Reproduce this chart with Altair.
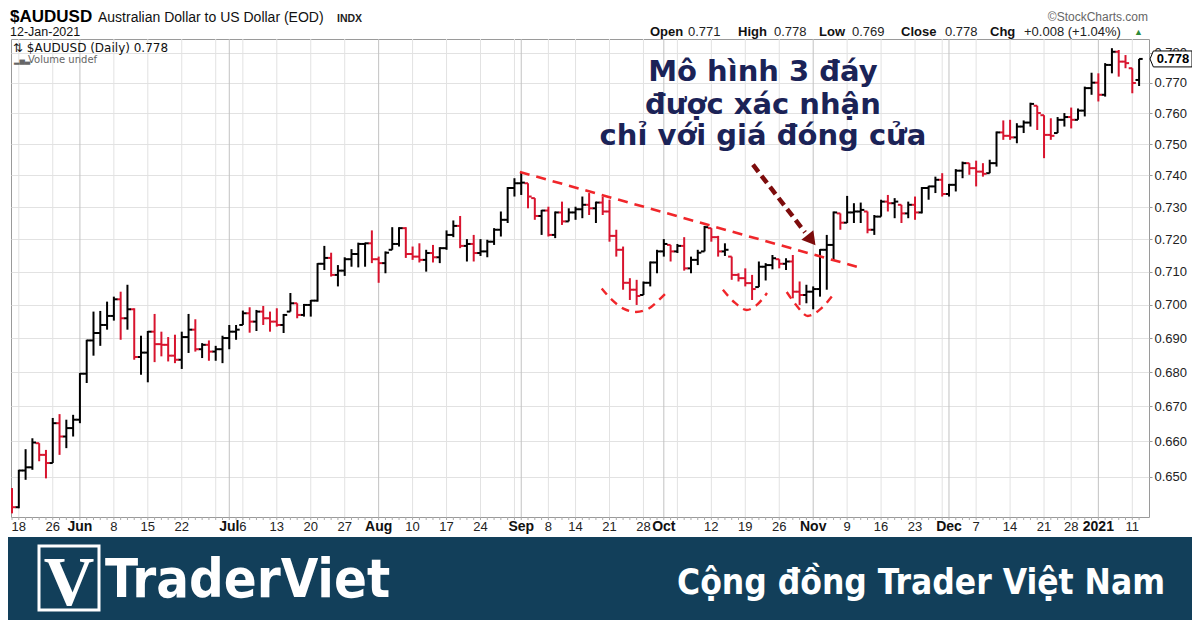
import altair as alt
import pandas as pd

# ------------------------------------------------------------------ data
HOLIDAYS = ["2020-05-25", "2020-07-03", "2020-09-07", "2020-11-26", "2020-12-25", "2021-01-01"]
DAYS = [d for d in pd.bdate_range("2020-05-15", "2021-01-12") if d.strftime("%Y-%m-%d") not in HOLIDAYS]

OPEN = [0.6464, 0.6416, 0.6518, 0.6527, 0.6595, 0.6562, 0.6539, 0.6652, 0.6614, 0.6638,
        0.6662, 0.6795, 0.6893, 0.6915, 0.6939, 0.6966, 0.7016, 0.6959, 0.6986, 0.6844,
        0.6857, 0.6919, 0.6882, 0.6880, 0.6848, 0.6836, 0.6903, 0.6925, 0.6867, 0.6880,
        0.6860, 0.6867, 0.6900, 0.6919, 0.6939, 0.6974, 0.6949, 0.6979, 0.6959, 0.6949,
        0.6939, 0.6979, 0.7004, 0.6969, 0.6999, 0.7012, 0.7124, 0.7142, 0.7090, 0.7103,
        0.7138, 0.7154, 0.7185, 0.7187, 0.7138, 0.7126, 0.7167, 0.7185, 0.7234, 0.7154,
        0.7146, 0.7136, 0.7157, 0.7144, 0.7172, 0.7213, 0.7241, 0.7179, 0.7185, 0.7157,
        0.7162, 0.7192, 0.7229, 0.7260, 0.7360, 0.7375, 0.7375, 0.7328, 0.7272, 0.7289,
        0.7213, 0.7283, 0.7255, 0.7283, 0.7293, 0.7307, 0.7296, 0.7314, 0.7286, 0.7210,
        0.7167, 0.7066, 0.7045, 0.7029, 0.7066, 0.7128, 0.7162, 0.7182, 0.7162, 0.7179,
        0.7110, 0.7136, 0.7162, 0.7234, 0.7206, 0.7162, 0.7146, 0.7090, 0.7080, 0.7065,
        0.7053, 0.7115, 0.7120, 0.7138, 0.7124, 0.7131, 0.7039, 0.7029, 0.7039, 0.7047,
        0.7167, 0.7182, 0.7280, 0.7251, 0.7283, 0.7286, 0.7286, 0.7229, 0.7270, 0.7317,
        0.7312, 0.7307, 0.7280, 0.7307, 0.7283, 0.7360, 0.7365, 0.7386, 0.7341, 0.7370,
        0.7415, 0.7439, 0.7423, 0.7412, 0.7407, 0.7439, 0.7538, 0.7527, 0.7522, 0.7557,
        0.7570, 0.7625, 0.7594, 0.7530, 0.7536, 0.7579, 0.7588, 0.7579, 0.7609, 0.7683,
        0.7701, 0.7661, 0.7760, 0.7804, 0.7771, 0.7749, 0.7710]
HIGH = [0.6469, 0.6520, 0.6578, 0.6609, 0.6595, 0.6576, 0.6667, 0.6678, 0.6662, 0.6676,
        0.6797, 0.6895, 0.6979, 0.6981, 0.7009, 0.7024, 0.7039, 0.7060, 0.6989, 0.6907,
        0.6921, 0.6972, 0.6919, 0.6903, 0.6910, 0.6919, 0.6972, 0.6956, 0.6885, 0.6893,
        0.6877, 0.6907, 0.6939, 0.6939, 0.6982, 0.6992, 0.6984, 0.6996, 0.6979, 0.6989,
        0.6972, 0.7035, 0.7004, 0.7002, 0.7014, 0.7126, 0.7179, 0.7158, 0.7120, 0.7144,
        0.7169, 0.7189, 0.7189, 0.7227, 0.7146, 0.7162, 0.7237, 0.7237, 0.7237, 0.7177,
        0.7187, 0.7167, 0.7182, 0.7175, 0.7227, 0.7258, 0.7272, 0.7200, 0.7213, 0.7200,
        0.7198, 0.7234, 0.7286, 0.7363, 0.7391, 0.7409, 0.7375, 0.7328, 0.7291, 0.7301,
        0.7286, 0.7317, 0.7296, 0.7301, 0.7333, 0.7344, 0.7317, 0.7333, 0.7323, 0.7229,
        0.7177, 0.7080, 0.7075, 0.7070, 0.7131, 0.7167, 0.7200, 0.7182, 0.7185, 0.7206,
        0.7146, 0.7167, 0.7241, 0.7234, 0.7210, 0.7187, 0.7146, 0.7095, 0.7110, 0.7090,
        0.7131, 0.7126, 0.7151, 0.7138, 0.7141, 0.7151, 0.7070, 0.7060, 0.7055, 0.7169,
        0.7213, 0.7286, 0.7280, 0.7335, 0.7312, 0.7314, 0.7286, 0.7275, 0.7323, 0.7338,
        0.7328, 0.7307, 0.7317, 0.7333, 0.7363, 0.7367, 0.7396, 0.7407, 0.7373, 0.7420,
        0.7444, 0.7439, 0.7447, 0.7439, 0.7450, 0.7541, 0.7577, 0.7579, 0.7568, 0.7577,
        0.7635, 0.7625, 0.7594, 0.7584, 0.7588, 0.7601, 0.7619, 0.7616, 0.7688, 0.7734,
        0.7732, 0.7766, 0.7816, 0.7810, 0.7793, 0.7749, 0.7780]
LOW = [0.6399, 0.6413, 0.6492, 0.6520, 0.6544, 0.6496, 0.6539, 0.6562, 0.6581, 0.6614,
       0.6652, 0.6768, 0.6848, 0.6877, 0.6925, 0.6952, 0.6895, 0.6925, 0.6836, 0.6792,
       0.6770, 0.6829, 0.6846, 0.6831, 0.6826, 0.6809, 0.6856, 0.6860, 0.6841, 0.6833,
       0.6833, 0.6826, 0.6867, 0.6895, 0.6939, 0.6916, 0.6921, 0.6939, 0.6919, 0.6934,
       0.6915, 0.6979, 0.6959, 0.6964, 0.6964, 0.7009, 0.7105, 0.7085, 0.7055, 0.7087,
       0.7115, 0.7113, 0.7115, 0.7126, 0.7066, 0.7095, 0.7167, 0.7177, 0.7142, 0.7136,
       0.7128, 0.7100, 0.7128, 0.7126, 0.7167, 0.7206, 0.7172, 0.7131, 0.7131, 0.7148,
       0.7144, 0.7182, 0.7208, 0.7250, 0.7333, 0.7338, 0.7296, 0.7260, 0.7213, 0.7208,
       0.7203, 0.7244, 0.7255, 0.7260, 0.7265, 0.7275, 0.7250, 0.7275, 0.7192, 0.7146,
       0.7045, 0.7014, 0.6999, 0.7029, 0.7055, 0.7095, 0.7146, 0.7131, 0.7157, 0.7103,
       0.7095, 0.7120, 0.7162, 0.7192, 0.7146, 0.7148, 0.7075, 0.7070, 0.7055, 0.7014,
       0.7053, 0.7073, 0.7107, 0.7110, 0.7105, 0.7019, 0.6999, 0.7004, 0.6986, 0.7024,
       0.7045, 0.7136, 0.7229, 0.7250, 0.7250, 0.7250, 0.7218, 0.7213, 0.7270, 0.7286,
       0.7265, 0.7250, 0.7265, 0.7260, 0.7280, 0.7323, 0.7344, 0.7333, 0.7333, 0.7349,
       0.7391, 0.7402, 0.7365, 0.7396, 0.7407, 0.7428, 0.7514, 0.7514, 0.7503, 0.7536,
       0.7557, 0.7546, 0.7455, 0.7514, 0.7536, 0.7557, 0.7551, 0.7579, 0.7590, 0.7661,
       0.7639, 0.7655, 0.7732, 0.7721, 0.7749, 0.7666, 0.7690]
CLOSE = [0.6416, 0.6518, 0.6527, 0.6597, 0.6562, 0.6539, 0.6652, 0.6614, 0.6638, 0.6662,
         0.6795, 0.6893, 0.6915, 0.6939, 0.6966, 0.7016, 0.6959, 0.6986, 0.6844, 0.6857,
         0.6919, 0.6882, 0.6880, 0.6848, 0.6836, 0.6903, 0.6925, 0.6867, 0.6880, 0.6860,
         0.6867, 0.6900, 0.6919, 0.6925, 0.6974, 0.6949, 0.6979, 0.6959, 0.6949, 0.6939,
         0.6969, 0.7004, 0.6969, 0.6999, 0.7012, 0.7124, 0.7142, 0.7090, 0.7103, 0.7138,
         0.7154, 0.7185, 0.7187, 0.7138, 0.7126, 0.7158, 0.7185, 0.7234, 0.7154, 0.7146,
         0.7136, 0.7157, 0.7144, 0.7172, 0.7213, 0.7241, 0.7179, 0.7185, 0.7157, 0.7162,
         0.7192, 0.7229, 0.7260, 0.7360, 0.7375, 0.7377, 0.7333, 0.7272, 0.7289, 0.7213,
         0.7283, 0.7255, 0.7283, 0.7293, 0.7307, 0.7296, 0.7314, 0.7286, 0.7210, 0.7167,
         0.7066, 0.7045, 0.7026, 0.7066, 0.7128, 0.7162, 0.7185, 0.7162, 0.7179, 0.7110,
         0.7136, 0.7158, 0.7237, 0.7206, 0.7162, 0.7167, 0.7090, 0.7080, 0.7065, 0.7047,
         0.7115, 0.7120, 0.7141, 0.7124, 0.7131, 0.7039, 0.7029, 0.7039, 0.7047, 0.7167,
         0.7182, 0.7283, 0.7251, 0.7283, 0.7286, 0.7291, 0.7229, 0.7270, 0.7317, 0.7312,
         0.7317, 0.7280, 0.7307, 0.7283, 0.7360, 0.7365, 0.7386, 0.7341, 0.7370, 0.7415,
         0.7439, 0.7423, 0.7412, 0.7405, 0.7439, 0.7538, 0.7527, 0.7522, 0.7557, 0.7570,
         0.7631, 0.7601, 0.7530, 0.7527, 0.7579, 0.7588, 0.7579, 0.7609, 0.7683, 0.7701,
         0.7661, 0.7760, 0.7804, 0.7771, 0.7766, 0.7700, 0.7780]

TICK_DATES = ["2020-05-18", "2020-05-26", "2020-06-01", "2020-06-08", "2020-06-15", "2020-06-22",
              "2020-07-01", "2020-07-06", "2020-07-13", "2020-07-20", "2020-07-27", "2020-08-03",
              "2020-08-10", "2020-08-17", "2020-08-24", "2020-09-01", "2020-09-08", "2020-09-14",
              "2020-09-21", "2020-09-28", "2020-10-01", "2020-10-12", "2020-10-19", "2020-10-26",
              "2020-11-02", "2020-11-09", "2020-11-16", "2020-11-23", "2020-12-01", "2020-12-07",
              "2020-12-14", "2020-12-21", "2020-12-28", "2021-01-04", "2021-01-11"]
TICK_TEXT = ["18", "26", "Jun", "8", "15", "22", "Jul", "6", "13", "20", "27", "Aug", "10", "17",
             "24", "Sep", "8", "14", "21", "28", "Oct", "12", "19", "26", "Nov", "9", "16", "23",
             "Dec", "7", "14", "21", "28", "2021", "11"]
MONTH_TEXT = ["Jun", "Jul", "Aug", "Sep", "Oct", "Nov", "Dec", "2021"]
Y_TICKS = [0.650, 0.660, 0.670, 0.680, 0.690, 0.700, 0.710, 0.720, 0.730, 0.740, 0.750,
           0.760, 0.770, 0.780]

# annotations (x in bar-index units, y in price)
TREND_X = [74.8, 124.6]
TREND_Y = [0.7411, 0.7114]
ARC_ID = [1] * 7 + [2] * 5 + [3] * 5
ARC_X = [86.85, 88.37, 90.13, 91.9, 93.67, 95.29, 96.47,
         104.7, 106.5, 108.2, 109.7, 111.2,
         114.1, 115.6, 117.2, 119.1, 120.9]
ARC_Y = [0.7049, 0.7014, 0.6987, 0.6978, 0.6987, 0.7014, 0.7038,
         0.7045, 0.7005, 0.6984, 0.6999, 0.7035,
         0.7038, 0.6996, 0.6966, 0.6987, 0.7029]
ARROW_X = [109.13, 116.8]
ARROW_Y = [0.7434, 0.7221]
HEAD_X = [117.54]
HEAD_Y = [0.7202]
NOTE_LINES = ["Mô hình 3 đáy", "được xác nhận", "chỉ với giá đóng cửa"]
NOTE_X = [110.6, 110.6, 110.6]
NOTE_Y = [0.7707, 0.7598, 0.7497]
LAST_PRICE = [0.778]

# ------------------------------------------------------------------ frames
W, H = 1138, 478
n = len(CLOSE)
prev = [OPEN[0]] + CLOSE[:-1]
bars = pd.DataFrame({
    "i": list(range(n)),
    "date": [d.strftime("%Y-%m-%d") for d in DAYS],
    "open": OPEN, "high": HIGH, "low": LOW, "close": CLOSE,
})
bars["col"] = ["#000000" if c > p else "#d8142e" for c, p in zip(CLOSE, prev)]

idx_of = {d: k for k, d in enumerate(bars["date"])}
ticks = pd.DataFrame({"i": [idx_of[d] for d in TICK_DATES], "t": TICK_TEXT})
ticks["month"] = ticks["t"].isin(MONTH_TEXT)

grid_rows = []
for k in range(1, n):
    d, p = DAYS[k], DAYS[k - 1]
    if d.month != p.month:
        grid_rows.append((k, "month"))
    elif d.isocalendar()[1] != p.isocalendar()[1]:
        grid_rows.append((k, "week"))
grid = pd.DataFrame(grid_rows, columns=["i", "kind"])

trend = pd.DataFrame({"x": TREND_X, "y": TREND_Y})
arcs = pd.DataFrame({"arc": ARC_ID, "x": ARC_X, "y": ARC_Y})
arrow = pd.DataFrame({"x": ARROW_X, "y": ARROW_Y})
head = pd.DataFrame({"x": HEAD_X, "y": HEAD_Y})
note = pd.DataFrame({"x": NOTE_X, "y": NOTE_Y, "t": NOTE_LINES})
last = pd.DataFrame({"p": LAST_PRICE, "t": ["%.3f" % v for v in LAST_PRICE]})
one = pd.DataFrame({"k": [0]})

xs = alt.Scale(domain=[-0.15, 167.46], nice=False, zero=False)
ys = alt.Scale(type="log", domain=[0.6389, 0.7847], nice=False)
yax = alt.Axis(orient="right", values=Y_TICKS, format=".3f", grid=True, gridColor="#e2e2e2",
               domain=False, ticks=True, tickSize=3, tickColor="#999999", labelPadding=2,
               labelFont="Liberation Sans", labelFontSize=13, labelColor="#222222", title=None)

X = alt.X("i:Q", scale=xs, axis=None)


def Y(field):
    return alt.Y(field, scale=ys, axis=yax)


def txt(s, x, y, size=13, weight="normal", color="#111111", align="left",
        font="Liberation Sans", baseline="alphabetic"):
    return alt.Chart(one).mark_text(text=s, fontSize=size, fontWeight=weight, color=color,
                                    align=align, font=font, baseline=baseline).encode(
        x=alt.value(x), y=alt.value(y))


layers = []
# vertical grid lines
layers.append(alt.Chart(grid[grid.kind == "week"]).mark_rule(color="#e2e2e2", strokeWidth=1).encode(
    x=X, y=alt.value(0), y2=alt.value(H)))
layers.append(alt.Chart(grid[grid.kind == "month"]).mark_rule(color="#c2c2c2", strokeWidth=1).encode(
    x=X, y=alt.value(0), y2=alt.value(H)))
# minor day ticks on bottom axis
layers.append(alt.Chart(bars).mark_rule(color="#aaaaaa", strokeWidth=1).encode(
    x=X, y=alt.value(H), y2=alt.value(H + 3)))

# OHLC bars
base = alt.Chart(bars)
col = alt.Color("col:N", scale=None)
layers.append(base.mark_rule(strokeWidth=2, clip=True).encode(
    x=X, y=Y("low:Q"), y2="high:Q", color=col))
layers.append(base.mark_rule(strokeWidth=2, xOffset=-3.6, x2Offset=0, clip=True).encode(
    x=X, x2="i:Q", y=Y("open:Q"), color=col))
layers.append(base.mark_rule(strokeWidth=2, xOffset=0, x2Offset=3.6, clip=True).encode(
    x=X, x2="i:Q", y=Y("close:Q"), color=col))

# annotations
AX = alt.X("x:Q", scale=xs, axis=None)
layers.append(alt.Chart(trend).mark_line(color="#f0262a", strokeWidth=2.6, strokeDash=[10, 7]).encode(
    x=AX, y=Y("y:Q")))
layers.append(alt.Chart(arcs).mark_line(color="#f0262a", strokeWidth=2.4, strokeDash=[8, 6],
                                        interpolate="monotone").encode(
    x=AX, y=Y("y:Q"), detail="arc:N"))
layers.append(alt.Chart(arrow).mark_line(color="#7d0c0c", strokeWidth=4.5, strokeDash=[9, 5]).encode(
    x=AX, y=Y("y:Q")))
layers.append(alt.Chart(head).mark_point(shape="triangle", filled=True, opacity=1, size=230, angle=142,
                                         color="#7d0c0c").encode(x=AX, y=Y("y:Q")))
layers.append(alt.Chart(note).mark_text(font="DejaVu Sans", fontWeight="bold", fontSize=29,
                                        color="#1b2357", align="center", baseline="alphabetic").encode(
    x=AX, y=Y("y:Q"), text="t:N"))

# x labels
layers.append(alt.Chart(ticks[~ticks.month]).mark_text(font="Liberation Sans", fontSize=13,
                                                       color="#222222", baseline="middle").encode(
    x=X, y=alt.value(H + 10), text="t:N"))
layers.append(alt.Chart(ticks[ticks.month]).mark_text(font="Liberation Sans", fontSize=14,
                                                      fontWeight="bold", color="#111111",
                                                      baseline="middle").encode(
    x=X, y=alt.value(H + 10), text="t:N"))

# last price flag
layers.append(alt.Chart(last).mark_point(
    shape="M -1 0 L -0.84 -0.38 L 1 -0.38 L 1 0.38 L -0.84 0.38 Z", size=1764, filled=True,
    fill="white", stroke="#000000", strokeWidth=1, opacity=1).encode(
    x=alt.value(W + 22), y=Y("p:Q")))
layers.append(alt.Chart(last).mark_text(font="Liberation Sans", fontWeight="bold", fontSize=13,
                                        color="#000000", align="center", baseline="middle").encode(
    x=alt.value(W + 24), y=Y("p:Q"), text="t:N"))

# header texts
layers += [
    txt("$AUDUSD", -1, -17, size=17, weight="bold", color="#000000"),
    txt("Australian Dollar to US Dollar (EOD)", 87, -17, size=14, color="#111111"),
    txt("INDX", 326, -17, size=10.5, weight="bold", color="#222222"),
    txt("12-Jan-2021", -1, -3, size=12.5, color="#111111"),
    txt("\u00a9StockCharts.com", W - 1, -18, size=12, color="#666666", align="right"),
    txt("Open", 639, -3, size=13, weight="bold", color="#111111"),
    txt("0.771", 677, -3, size=13, color="#222222"),
    txt("High", 727, -3, size=13, weight="bold", color="#111111"),
    txt("0.778", 763, -3, size=13, color="#222222"),
    txt("Low", 808, -3, size=13, weight="bold", color="#111111"),
    txt("0.769", 841, -3, size=13, color="#222222"),
    txt("Close", 890, -3, size=13, weight="bold", color="#111111"),
    txt("0.778", 934, -3, size=13, color="#222222"),
    txt("Chg", 979, -3, size=13, weight="bold", color="#111111"),
    txt("+0.008 (+1.04%)", 1013, -3, size=13, color="#222222"),
    txt("\u25b2", 1123, -4, size=9, color="#2e8b3a"),
    txt("\u21c5 $AUDUSD (Daily) 0.778", 2, 13, size=12, color="#111111", font="DejaVu Sans"),
    txt("\u2582\u2585\u2583", 3, 24, size=7, color="#666666", font="DejaVu Sans"),
    txt("Volume undef", 17, 24, size=10, color="#666666", font="DejaVu Sans"),
]

# bottom banner
layers.append(alt.Chart(one).mark_rect(color="#123f5a").encode(
    x=alt.value(-3), x2=alt.value(W + 43), y=alt.value(H + 20), y2=alt.value(H + 103)))
layers.append(alt.Chart(one).mark_rect(fill="#123f5a", stroke="#ffffff", strokeWidth=3).encode(
    x=alt.value(28), x2=alt.value(88), y=alt.value(H + 29), y2=alt.value(H + 93)))
layers += [
    txt("V", 58, H + 88, size=70, weight="bold", color="#ffffff", align="center",
        font="Liberation Serif"),
    txt("TraderViet", 94, H + 80, size=54, weight="bold", color="#ffffff",
        font="Liberation Sans Narrow, DejaVu Sans Condensed, sans-serif"),
    txt("Cộng đồng Trader Việt Nam", 1154, H + 77, size=35, weight="bold", color="#ffffff",
        align="right", font="Liberation Sans Narrow, DejaVu Sans Condensed, sans-serif"),
]

chart = alt.layer(*layers).properties(
    width=W, height=H,
    autosize=alt.AutoSizeParams(type="none"),
    padding={"left": 3, "top": 31, "right": 43, "bottom": 103},
    background="#ffffff",
).configure_view(stroke="#9a9a9a", strokeWidth=1)

chart.save("out.html", embed_options={"renderer": "svg", "actions": False})
